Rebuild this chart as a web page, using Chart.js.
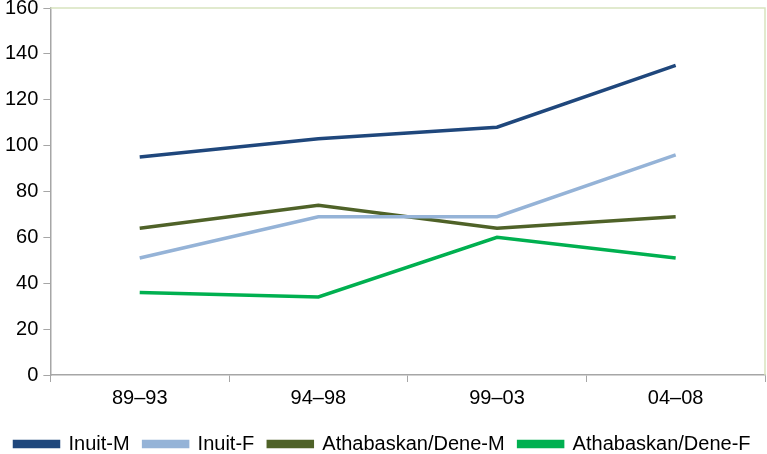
<!DOCTYPE html>
<html>
<head>
<meta charset="utf-8">
<script src="https://cdn.jsdelivr.net/npm/chart.js@4/dist/chart.umd.min.js"></script>
<style>
  body { margin: 0; background: #fff; }
  #wrap { width: 767px; height: 454px; }
</style>
</head>
<body>
<div id="wrap"><canvas id="c"></canvas></div>
<script>
var periods = ['89\u201393', '94\u201398', '99\u201303', '04\u201308']
var inuitM = [95, 103, 108, 135]
var inuitF = [51, 69, 69, 96]
var athM = [64, 74, 64, 69]
var athF = [36, 34, 60, 51]

function ds(label, data, color){
  return {
    label: label,
    data: data,
    borderColor: color,
    backgroundColor: color,
    borderWidth: 3.5,
    pointRadius: 0,
    tension: 0,
    fill: false
  }
}

// light green frame on top and right of the plot area
var frame = {
  id: 'frame',
  beforeDatasetsDraw: function(chart){
    var a = chart.chartArea, ctx = chart.ctx
    ctx.save()
    ctx.strokeStyle = '#d8e4bf'
    ctx.lineWidth = 1.5
    ctx.beginPath()
    ctx.moveTo(a.left, a.top)
    ctx.lineTo(a.right, a.top)
    ctx.lineTo(a.right, a.bottom)
    ctx.stroke()
    ctx.restore()
  }
}

Chart.defaults.font.family = '"Liberation Sans", Arial, sans-serif'
Chart.defaults.color = '#000'

new Chart(document.getElementById('c'), {
  type: 'line',
  data: {
    labels: periods,
    datasets: [
      ds('Inuit-M', inuitM, '#1f477c'),
      ds('Inuit-F', inuitF, '#95b3d7'),
      ds('Athabaskan/Dene-M', athM, '#4f6228'),
      ds('Athabaskan/Dene-F', athF, '#00b050')
    ]
  },
  options: {
    responsive: true,
    maintainAspectRatio: false,
    animation: false,
    layout: { padding: { left: 0, right: 2, top: 0, bottom: -10 } },
    plugins: {
      tooltip: { enabled: false },
      legend: {
        position: 'bottom',
        labels: {
          boxWidth: 44,
          boxHeight: 5,
          padding: 14,
          font: { size: 20 }
        }
      }
    },
    scales: {
      x: {
        offset: true,
        grid: { offset: true, drawOnChartArea: false, tickLength: 7, color: '#a6a6a6' },
        border: { color: '#a6a6a6', width: 1.5 },
        ticks: { font: { size: 20 }, padding: 4, maxRotation: 0 },
        afterFit: function(scale){ scale.height += 6 }
      },
      y: {
        min: 0,
        max: 160,
        ticks: { stepSize: 20, font: { size: 20 }, padding: 5 },
        grid: { drawOnChartArea: false, tickLength: 7, color: '#a6a6a6' },
        border: { color: '#a6a6a6', width: 1.5 },
        afterFit: function(scale){ scale.paddingTop = 8 }
      }
    }
  },
  plugins: [frame]
})
</script>
</body>
</html>
